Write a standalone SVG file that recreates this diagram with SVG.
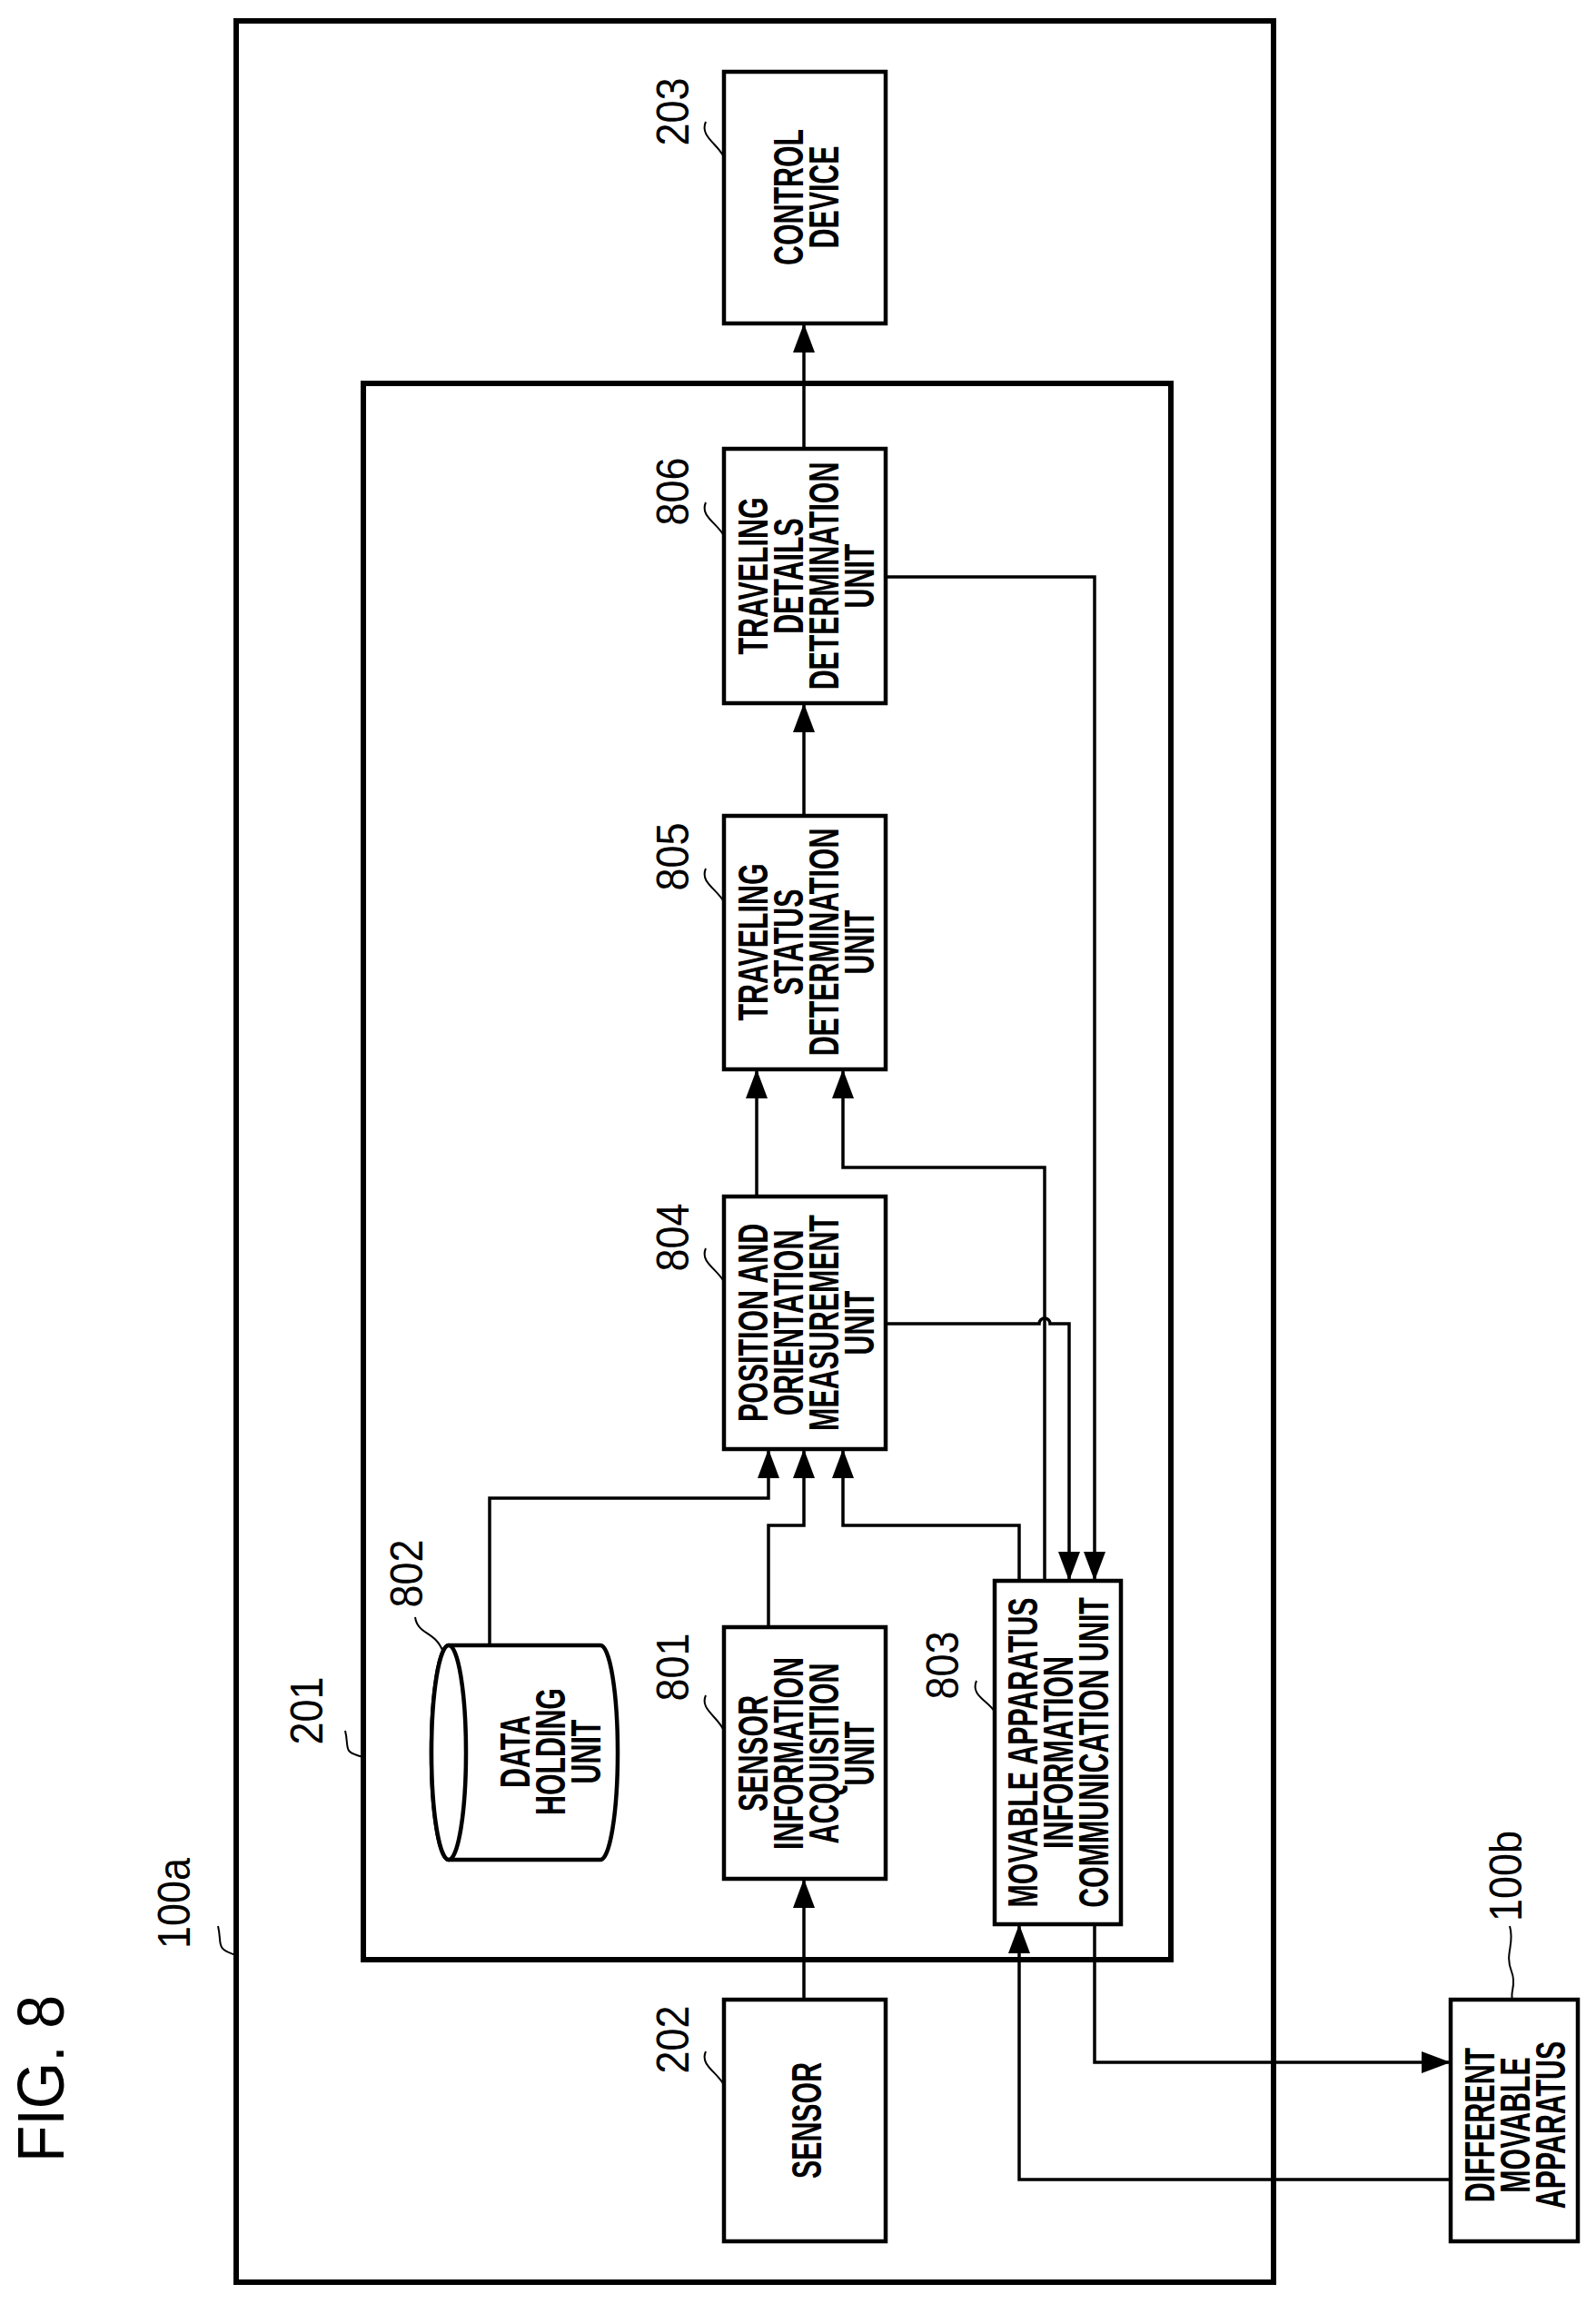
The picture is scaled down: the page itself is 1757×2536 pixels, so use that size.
<svg xmlns="http://www.w3.org/2000/svg" width="1757" height="2536" viewBox="0 0 1757 2536">
<style>
.frame{fill:none;stroke:#000;stroke-width:6}
.box{fill:#fff;stroke:#000;stroke-width:4.5}
.ln{fill:none;stroke:#000;stroke-width:3.5}
.ld{fill:none;stroke:#000;stroke-width:2}
.t{font-family:"Liberation Sans",Arial,sans-serif;font-weight:bold;font-size:46px;text-anchor:middle}
.n{font-family:"Liberation Sans",Arial,sans-serif;font-size:50px;text-anchor:middle}
</style>
<defs>
<marker id="ah" markerUnits="userSpaceOnUse" markerWidth="34" markerHeight="24" refX="32" refY="12" orient="auto">
<path d="M0,0 L32,12 L0,24 Z" fill="#000"/>
</marker>
</defs>
<rect fill="#fff" width="1757" height="2536"/>
<g id="fig"><text class="n" style="font-size:72px" transform="translate(70,2288) rotate(-90) scale(0.92,1)">FIG. 8</text></g>
<g id="n100a"><rect class="frame" x="260" y="23" width="1142" height="2489"/>
<text class="n" transform="translate(209,2095) rotate(-90) scale(0.9,1)">100a</text>
<path class="ld" d="M240,2120 C245,2140 236,2145 260,2152"/></g>
<g id="n201"><rect class="frame" x="400" y="422" width="889" height="1735"/>
<text class="n" transform="translate(355,1883) rotate(-90) scale(0.9,1)">201</text>
<path class="ld" d="M380,1905 C385,1925 376,1928 400,1934"/></g>
<g id="n203"><rect class="box" x="797" y="79" width="178" height="277"/>
<text class="t" transform="translate(887,217) rotate(-90) scale(0.66,1)"><tspan x="0" y="-3">CONTROL</tspan><tspan x="0" y="36">DEVICE</tspan></text>
<text class="n" transform="translate(758,123) rotate(-90) scale(0.9,1)">203</text>
<path class="ld" d="M777,134 C770,150 790,158 797,173"/></g>
<g id="n806"><rect class="box" x="797" y="494" width="178" height="280"/>
<text class="t" transform="translate(887,634) rotate(-90) scale(0.66,1)"><tspan x="0" y="-42">TRAVELING</tspan><tspan x="0" y="-3">DETAILS</tspan><tspan x="0" y="36">DETERMINATION</tspan><tspan x="0" y="75">UNIT</tspan></text>
<text class="n" transform="translate(758,541) rotate(-90) scale(0.9,1)">806</text>
<path class="ld" d="M777,553 C770,568 790,576 797,590"/></g>
<g id="n805"><rect class="box" x="797" y="898" width="178" height="279"/>
<text class="t" transform="translate(887,1037) rotate(-90) scale(0.66,1)"><tspan x="0" y="-42">TRAVELING</tspan><tspan x="0" y="-3">STATUS</tspan><tspan x="0" y="36">DETERMINATION</tspan><tspan x="0" y="75">UNIT</tspan></text>
<text class="n" transform="translate(758,943) rotate(-90) scale(0.9,1)">805</text>
<path class="ld" d="M777,956 C770,971 790,979 797,993"/></g>
<g id="n804"><rect class="box" x="797" y="1317" width="178" height="278"/>
<text class="t" transform="translate(887,1456) rotate(-90) scale(0.66,1)"><tspan x="0" y="-42">POSITION AND</tspan><tspan x="0" y="-3">ORIENTATION</tspan><tspan x="0" y="36">MEASUREMENT</tspan><tspan x="0" y="75">UNIT</tspan></text>
<text class="n" transform="translate(758,1362) rotate(-90) scale(0.9,1)">804</text>
<path class="ld" d="M777,1374 C770,1389 790,1397 797,1411"/></g>
<g id="n801"><rect class="box" x="797" y="1791" width="178" height="277"/>
<text class="t" transform="translate(887,1930) rotate(-90) scale(0.66,1)"><tspan x="0" y="-42">SENSOR</tspan><tspan x="0" y="-3">INFORMATION</tspan><tspan x="0" y="36">ACQUISITION</tspan><tspan x="0" y="75">UNIT</tspan></text>
<text class="n" transform="translate(758,1835) rotate(-90) scale(0.9,1)">801</text>
<path class="ld" d="M777,1866 C770,1881 790,1889 797,1905"/></g>
<g id="n802"><path class="box" d="M494,1811 L661,1811 A19,118 0 0 1 661,2047 L494,2047 A19,118 0 0 1 494,1811 Z"/>
<ellipse class="box" cx="494" cy="1929" rx="19" ry="118"/>
<text class="t" transform="translate(605,1928) rotate(-90) scale(0.66,1)"><tspan x="0" y="-22">DATA</tspan><tspan x="0" y="17">HOLDING</tspan><tspan x="0" y="56">UNIT</tspan></text>
<text class="n" transform="translate(465,1732) rotate(-90) scale(0.9,1)">802</text>
<path class="ld" d="M457,1780 C460,1800 480,1795 488,1819"/></g>
<g id="n803"><rect class="box" x="1095" y="1740" width="139" height="378"/>
<text class="t" transform="translate(1165,1929) rotate(-90) scale(0.66,1)"><tspan x="0" y="-23">MOVABLE APPARATUS</tspan><tspan x="0" y="16">INFORMATION</tspan><tspan x="0" y="55">COMMUNICATION UNIT</tspan></text>
<text class="n" transform="translate(1055,1833) rotate(-90) scale(0.9,1)">803</text>
<path class="ld" d="M1075,1850 C1068,1866 1088,1872 1095,1884"/></g>
<g id="n202"><rect class="box" x="797" y="2201" width="178" height="266"/>
<text class="t" transform="translate(887,2334) rotate(-90) scale(0.66,1)"><tspan x="0" y="17">SENSOR</tspan></text>
<text class="n" transform="translate(758,2245) rotate(-90) scale(0.9,1)">202</text>
<path class="ld" d="M777,2258 C770,2273 790,2281 797,2295"/></g>
<g id="n100b"><rect class="box" x="1597" y="2201" width="140" height="266"/>
<text class="t" transform="translate(1667,2339) rotate(-90) scale(0.66,1)"><tspan x="0" y="-22">DIFFERENT</tspan><tspan x="0" y="17">MOVABLE</tspan><tspan x="0" y="56">APPARATUS</tspan></text>
<text class="n" transform="translate(1675,2065) rotate(-90) scale(0.9,1)">100b</text>
<path class="ld" d="M1662,2120 C1668,2140 1656,2150 1664,2170 C1670,2185 1662,2192 1665,2201"/></g>
<g id="connectors">
<path class="ln" marker-end="url(#ah)" d="M885,2201 L885,2068"/>
<path class="ln" marker-end="url(#ah)" d="M846,1791 L846,1679 L885,1679 L885,1595"/>
<path class="ln" marker-end="url(#ah)" d="M539,1811 L539,1649 L846,1649 L846,1595"/>
<path class="ln" marker-end="url(#ah)" d="M1122,1740 L1122,1679 L928,1679 L928,1595"/>
<path class="ln" marker-end="url(#ah)" d="M833,1317 L833,1177"/>
<path class="ln" marker-end="url(#ah)" d="M1150,1740 L1150,1285 L928,1285 L928,1177"/>
<path class="ln" marker-end="url(#ah)" d="M975,1457 L1144,1457 A6,6 0 0 1 1156,1457 L1177,1457 L1177,1740"/>
<path class="ln" marker-end="url(#ah)" d="M975,635 L1205,635 L1205,1740"/>
<path class="ln" marker-end="url(#ah)" d="M885,898 L885,774"/>
<path class="ln" marker-end="url(#ah)" d="M885,494 L885,356"/>
<path class="ln" marker-end="url(#ah)" d="M1205,2118 L1205,2270 L1597,2270"/>
<path class="ln" marker-end="url(#ah)" d="M1597,2399 L1122,2399 L1122,2118"/>
</g>
</svg>
